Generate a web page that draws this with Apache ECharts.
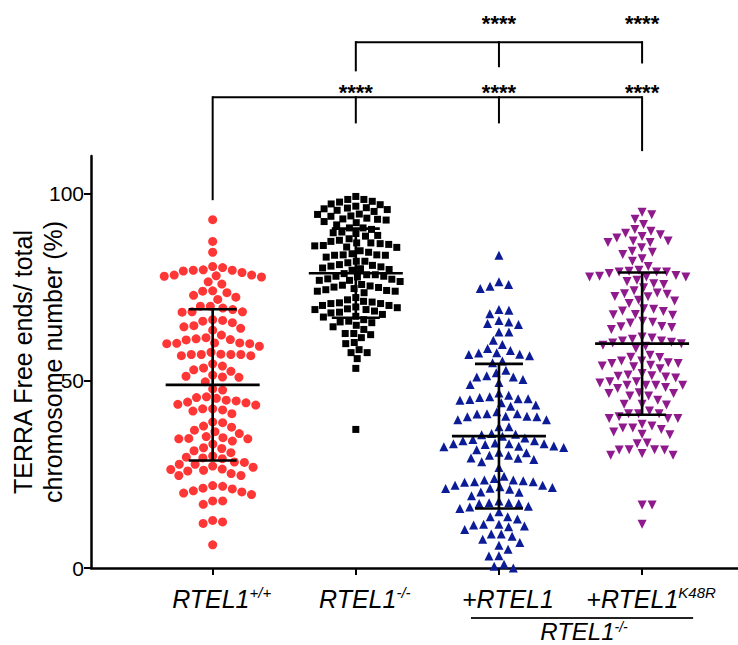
<!DOCTYPE html>
<html><head><meta charset="utf-8">
<script src="https://cdn.jsdelivr.net/npm/echarts@6/dist/echarts.min.js"></script>
<style>html,body{margin:0;padding:0;background:#fff}#c{width:738px;height:645px}</style>
</head><body><div id="c"></div>
<script>
// ---------------- data ----------------
const categoryMain = ['RTEL1', 'RTEL1', '+RTEL1', '+RTEL1'];
const categorySup  = ['+/+', '-/-', '', 'K48R'];
const groupLabelMain = 'RTEL1';
const groupLabelSup = '-/-';
const yTicks = [0, 50, 100];
const yAxisName = 'TERRA Free ends/ total\nchromosome number (%)';
const starText = '****';

const redValues = [
  93.0, 87.2, 84.3,
  80.5, 80.2, 79.3, 79.5, 79.6, 79.5, 78.9, 78.2, 77.9, 77.7, 78.0, 78.2,
  75.8, 76.4,
  73.9, 73.5, 74.0, 72.8, 72.3, 71.7,
  69.9, 69.4, 69.9, 68.4, 68.3, 68.4, 69.0,
  66.1, 65.5, 66.3, 65.9, 64.7, 64.4, 64.0, 63.5,
  62.2, 61.2, 60.9, 61.5, 61.0, 59.2, 60.1, 60.0, 59.9, 59.9, 60.1,
  57.0, 56.7, 57.0, 57.0, 57.0, 56.7, 57.1, 57.6,
  54.5, 53.9, 53.4, 52.5, 52.9, 51.5, 51.2, 50.9, 51.0,
  49.7, 47.8, 47.5,
  45.7, 45.3, 44.6, 44.1, 44.3, 44.8, 45.5, 43.5, 42.5, 41.9, 42.2, 42.5, 43.7, 41.2,
  39.0, 37.9, 37.6, 38.8, 36.8,
  36.4, 35.1, 34.6, 34.5, 33.9, 34.5, 34.8, 35.9, 33.1, 31.9, 30.8, 31.3, 32.1,
  29.9, 29.4, 28.3, 27.7, 27.7, 28.2, 29.2, 29.6, 27.2, 26.4, 26.1, 25.2, 24.7, 24.7, 25.9, 26.3, 26.9,
  21.8, 21.1, 20.3, 20.0, 20.6, 19.6, 21.3, 22.0, 17.9, 17.0, 17.9,
  12.3, 11.9, 12.7,
  6.2
];
const blackValues = [
  99.2, 98.4, 97.2, 97.9, 98.4, 97.0, 96.1, 95.7, 95.2, 95.5, 95.9, 96.2, 96.6, 97.7,
  94.5, 93.9, 93.4, 93.2, 92.2, 92.5, 92.9, 93.1, 94.0, 94.4,
  90.8, 90.4, 89.5, 88.8, 87.9, 88.6, 89.3, 89.7, 90.8, 91.6,
  87.5, 86.8, 86.6, 86.1, 85.6, 85.7, 86.0, 86.4, 86.8, 87.2,
  84.3, 83.6, 83.5, 83.0, 83.6, 83.5, 83.9, 84.7,
  81.9, 81.0, 80.6, 80.1, 79.7, 79.5, 79.9, 80.4, 80.8, 81.5, 81.9,
  78.3, 77.9, 77.7, 77.2, 76.8, 76.5, 76.8, 77.1, 77.9, 78.3, 78.6,
  75.3, 75.0, 74.6, 74.1, 73.9, 73.5, 73.9, 74.3, 74.9, 75.5, 75.7,
  71.6, 71.0, 70.6, 70.1, 69.7, 70.1, 70.6, 70.8, 71.2, 72.2,
  69.5, 69.0, 68.6, 68.1, 67.2, 67.0, 67.7, 68.3, 69.0, 69.2,
  66.3, 65.7, 64.8, 63.7, 64.4, 65.5, 65.9,
  62.6, 61.5, 60.2, 62.3, 62.6, 59.9,
  58.3, 57.5, 57.5, 55.9,
  53.3, 37.0
];
const blueValues = [
  83.5,
  75.7, 74.6, 75.2, 76.4,
  69.0, 68.8, 67.9, 65.3, 65.7, 66.1, 65.0, 63.0, 63.0, 60.8, 59.7,
  58.1, 57.4, 57.0, 56.7, 57.1, 57.5, 58.6, 55.3, 54.8,
  52.8, 52.1, 51.0, 50.3, 51.0, 51.3, 49.0, 49.5,
  45.7, 45.2, 44.8, 46.1, 46.7, 45.0, 45.2, 45.5, 44.1, 43.5, 43.2,
  41.7, 41.2, 40.4, 39.6, 40.5, 41.1, 41.2, 39.6, 40.4, 40.5, 37.7, 37.7,
  35.2, 34.3, 34.0, 35.7, 35.9, 35.6, 34.7, 34.0, 33.0, 32.5, 32.2, 33.2, 33.2, 33.2, 33.4, 31.6, 32.4, 32.6,
  30.9, 30.1, 30.1, 30.8, 29.4, 29.0, 28.4, 29.3,
  26.8,
  24.5, 23.9, 23.5, 23.0, 22.9, 23.0, 23.3, 23.5, 22.1, 21.5, 21.2, 22.1, 20.2, 21.0, 21.3, 21.7, 20.3, 19.3,
  17.9, 17.4, 17.2, 16.3, 15.9, 15.0, 16.5, 17.2, 17.4,
  13.7, 13.1, 13.7, 11.7, 11.5, 11.0, 10.3, 11.2, 11.7,
  9.1, 9.1, 8.5, 7.7, 6.1, 6.8, 5.0,
  3.3, 3.2, 1.0, 0.5, 0.0
];
const purpleValues = [
  95.0, 94.3, 93.1, 91.7, 89.4, 88.5, 89.9, 90.4, 89.0, 88.1, 87.3, 86.9, 86.9, 87.3, 85.5, 84.6, 83.7, 84.3, 82.6, 81.9,
  80.5, 79.5, 79.0, 78.6, 79.2, 79.0, 79.0, 77.9, 77.7, 77.7, 77.7, 78.1, 76.8, 75.9, 75.7, 76.5, 74.8, 74.0,
  73.2, 72.5, 71.5, 70.6, 71.3, 72.4, 73.1, 73.4,
  69.1, 68.5, 67.6, 67.5, 67.7, 68.6, 69.2, 65.9, 65.4, 64.4, 63.7, 64.2, 64.5, 65.6,
  61.4, 60.6, 60.1, 60.6, 61.1, 61.7, 59.5, 59.9, 59.2, 60.3, 58.6,
  56.8, 56.3, 56.2, 55.3, 54.6, 54.1, 53.7, 53.2, 53.9, 54.6, 54.8, 55.3,
  51.3, 50.7, 51.9, 51.5, 51.0, 51.2,
  48.8, 48.8, 47.9, 49.7, 49.4, 49.7, 48.2, 48.8, 48.8,
  45.9, 46.6, 46.6, 46.8, 45.9, 43.7, 43.5, 43.7, 44.8,
  41.9, 41.2, 40.4, 39.9, 39.9, 39.9, 41.2, 41.2,
  37.9, 37.4, 35.7, 36.3, 37.0, 35.6, 37.4, 38.4,
  33.4, 33.2, 31.6, 31.5, 30.6, 30.1, 30.1, 31.5, 31.6,
  16.8, 16.8, 11.7
];
// mean and SD as drawn
const groupMeans = [48.9, 78.7, 35.2, 59.9];
const groupSDs   = [20.2, 11.9, 19.3, 19.0];
// significance comparisons: [from group, to group]
const lowerComparisons = [[1, 2], [1, 3], [1, 4]];
const upperComparisons = [[2, 3], [2, 4]];

// ---------------- style / layout ----------------
const FONT = '"Liberation Sans", Arial, Helvetica, sans-serif';
const groupStyles = [
  { symbol: 'circle',   size: 9,  rotate: 0,   color: '#FF3636', gap: 10 },
  { symbol: 'rect',     size: 7,  rotate: 0,   color: '#000000', gap: 8.6 },
  { symbol: 'triangle', size: 9,  rotate: 0,   color: '#0B1C96', gap: 10 },
  { symbol: 'triangle', size: 9,  rotate: 180, color: '#8E1A8C', gap: 10 }
];
// bracket geometry in y-axis units (annotation layout)
const lowerBracket = { bar: 125.7, drops: { 1: 98.2, 2: 118.7, 3: 118.7, 4: 111.3 }, star: 127.0 };
const upperBracket = { bar: 140.4, drops: { 2: 132.6, 3: 133.7, 4: 134.7 }, star: 145.5 };

const chart = echarts.init(document.getElementById('c'), null, { renderer: 'svg' });

const richAxisLabel = {
  m: { fontFamily: FONT, fontSize: 25, fontStyle: 'italic', color: '#000', lineHeight: 28, padding: [0, 0, 0, 18] },
  s: { fontFamily: FONT, fontSize: 15, fontStyle: 'italic', color: '#000', lineHeight: 15, verticalAlign: 'top' }
};
const richGroupLabel = {
  m: { fontFamily: FONT, fontSize: 24, fontStyle: 'italic', color: '#000', lineHeight: 22 },
  s: { fontFamily: FONT, fontSize: 14, fontStyle: 'italic', color: '#000', lineHeight: 12, verticalAlign: 'top' }
};

const baseOption = {
  animation: false,
  backgroundColor: '#ffffff',
  grid: { left: 91, right: 0, top: 156, bottom: 77, containLabel: false, outerBoundsMode: 'none' },
  xAxis: {
    type: 'value', min: 0.15, max: 4.67,
    splitLine: { show: false },
    axisLine: { lineStyle: { color: '#000', width: 2.5 } },
    axisTick: { customValues: [1, 2, 3, 4], length: 7, lineStyle: { color: '#000', width: 2 } },
    axisLabel: {
      customValues: [1, 2, 3, 4], margin: 17,
      formatter: v => {
        const i = Math.round(v) - 1;
        return categorySup[i] ? '{m|' + categoryMain[i] + '}{s|' + categorySup[i] + '}' : '{m|' + categoryMain[i] + '}';
      },
      rich: richAxisLabel
    }
  },
  yAxis: {
    type: 'value', min: 0, max: 110,
    splitLine: { show: false },
    axisLine: { show: true, lineStyle: { color: '#000', width: 2.5 } },
    axisTick: { show: true, customValues: yTicks, length: 7, lineStyle: { color: '#000', width: 2 } },
    axisLabel: { customValues: yTicks, margin: 7, fontSize: 21, fontFamily: FONT, color: '#000' },
    name: yAxisName, nameLocation: 'middle', nameGap: 23, nameRotate: 90, nameMoveOverlap: false,
    nameTextStyle: { fontFamily: FONT, fontSize: 25, lineHeight: 30, color: '#000', padding: [0, 0, 0, 0] }
  },
  series: []
};
chart.setOption(baseOption);

// ---- beeswarm layout (pixel space, via the chart's own scales) ----
const xUnitPx = chart.convertToPixel({ xAxisIndex: 0 }, 2) - chart.convertToPixel({ xAxisIndex: 0 }, 1);
function swarm(values, gap) {
  const pts = values.map(v => ({ v, y: chart.convertToPixel({ yAxisIndex: 0 }, v), x: 0 }));
  const order = pts.slice().sort((a, b) => b.v - a.v);
  const placed = [];
  const d2 = gap * gap;
  for (const p of order) {
    const cands = [0];
    for (const q of placed) {
      const dy = Math.abs(q.y - p.y);
      if (dy < gap) { const dx = Math.sqrt(d2 - dy * dy); cands.push(q.x + dx, q.x - dx); }
    }
    cands.sort((a, b) => Math.abs(a) - Math.abs(b));
    for (const c of cands) {
      let ok = true;
      for (const q of placed) {
        if ((q.x - c) * (q.x - c) + (q.y - p.y) * (q.y - p.y) < d2 - 0.01) { ok = false; break; }
      }
      if (ok) { p.x = c; break; }
    }
    placed.push(p);
  }
  return pts.map(p => p.x / xUnitPx);
}

const groups = [redValues, blackValues, blueValues, purpleValues];
const scatterSeries = groups.map((vals, gi) => {
  const st = groupStyles[gi];
  const offs = swarm(vals, st.gap);
  return {
    type: 'scatter',
    data: vals.map((v, k) => [gi + 1 + offs[k], v]),
    symbol: st.symbol, symbolSize: st.size, symbolRotate: st.rotate,
    itemStyle: { color: st.color, opacity: 1 },
    z: 2, silent: true
  };
});

const errorSeries = {
  type: 'custom', z: 5, silent: true, clip: false,
  data: groupMeans.map((m, i) => [i + 1, m, groupSDs[i]]),
  renderItem: (params, api) => {
    const x = api.value(0), m = api.value(1), s = api.value(2);
    const c = api.coord([x, m]), t = api.coord([x, m + s]), b = api.coord([x, m - s]);
    const st = { stroke: '#000', lineWidth: 2.6 };
    return {
      type: 'group', children: [
        { type: 'line', shape: { x1: c[0], y1: t[1], x2: c[0], y2: b[1] }, style: st },
        { type: 'line', shape: { x1: c[0] - 47, y1: c[1], x2: c[0] + 47, y2: c[1] }, style: st },
        { type: 'line', shape: { x1: c[0] - 24, y1: t[1], x2: c[0] + 24, y2: t[1] }, style: st },
        { type: 'line', shape: { x1: c[0] - 24, y1: b[1], x2: c[0] + 24, y2: b[1] }, style: st }
      ]
    };
  }
};

function bracketChildren(api, comps, br) {
  const ch = [];
  const st = { stroke: '#000', lineWidth: 2 };
  const groupsUsed = [comps[0][0]].concat(comps.map(c => c[1]));
  const xs = groupsUsed.map(g => api.coord([g, br.bar])[0]);
  const yBar = api.coord([1, br.bar])[1];
  ch.push({ type: 'line', shape: { x1: Math.min(...xs), y1: yBar, x2: Math.max(...xs), y2: yBar }, style: st });
  groupsUsed.forEach(g => {
    const p = api.coord([g, br.drops[g]]);
    ch.push({ type: 'line', shape: { x1: p[0], y1: yBar - 1, x2: p[0], y2: p[1] }, style: st });
  });
  comps.forEach(c => {
    const p = api.coord([c[1], br.star]);
    ch.push({ type: 'text', x: p[0], y: p[1], style: { text: starText, fontFamily: FONT, fontSize: 22, fontWeight: 'bold', fill: '#000', align: 'center', verticalAlign: 'middle' } });
  });
  return ch;
}
const bracketSeries = {
  type: 'custom', z: 6, silent: true, clip: false,
  data: [[1, 0]],
  renderItem: (params, api) => ({
    type: 'group',
    children: bracketChildren(api, lowerComparisons, lowerBracket).concat(bracketChildren(api, upperComparisons, upperBracket))
  })
};

chart.setOption({ series: scatterSeries.concat([errorSeries, bracketSeries]) });

// group label under groups 3 and 4
const gx3 = chart.convertToPixel({ xAxisIndex: 0 }, 3);
const gx4 = chart.convertToPixel({ xAxisIndex: 0 }, 4);
const y0 = chart.convertToPixel({ yAxisIndex: 0 }, 0);
chart.setOption({
  graphic: [
    { type: 'line', shape: { x1: gx3 - 28, y1: y0 + 50, x2: gx4 + 51, y2: y0 + 50 }, style: { stroke: '#222', lineWidth: 2 } },
    { type: 'text', x: (gx3 - 28 + gx4 + 51) / 2 + 2, y: y0 + 63,
      style: { text: '{m|' + groupLabelMain + '}{s|' + groupLabelSup + '}', rich: richGroupLabel, align: 'center', verticalAlign: 'middle' } }
  ]
});
</script></body></html>
